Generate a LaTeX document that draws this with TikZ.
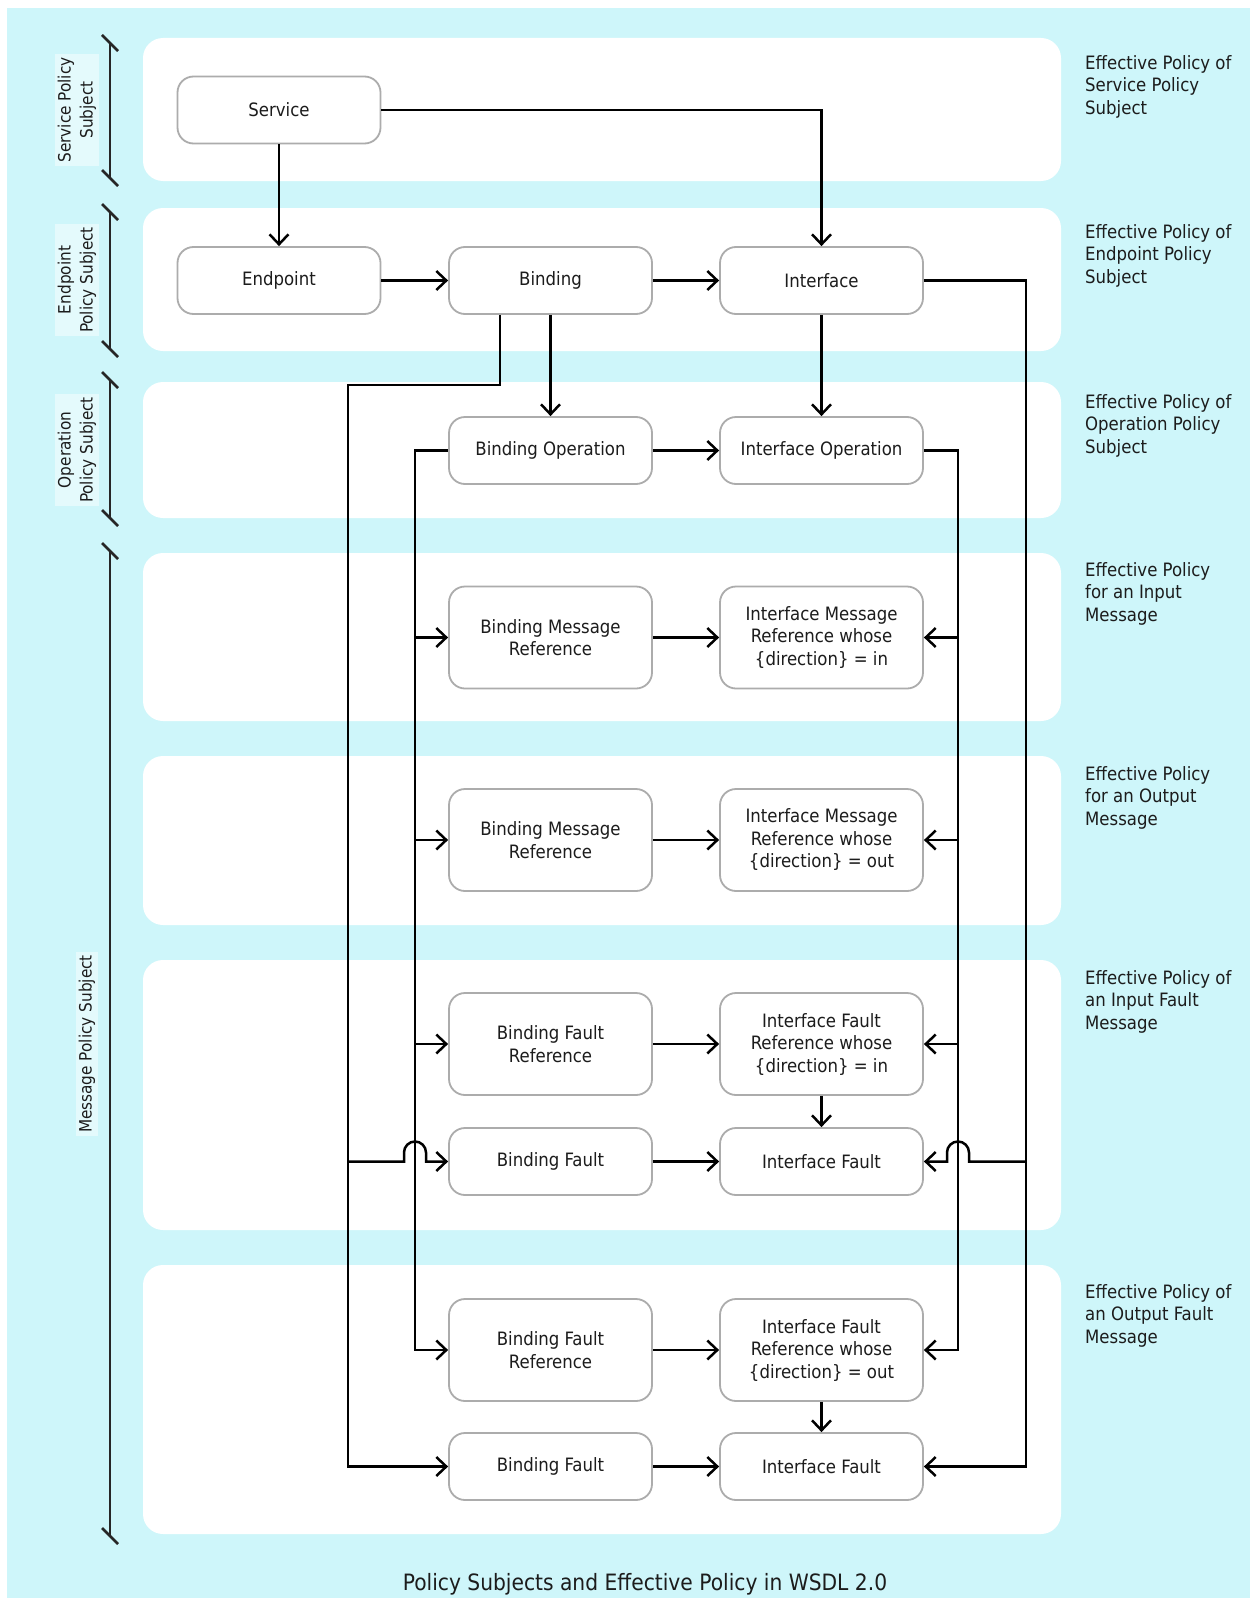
\documentclass[tikz,border=0pt]{standalone}
\usepackage{fontspec}
\setmainfont{DejaVu Sans Condensed}
\usetikzlibrary{arrows.meta}
\definecolor{bgcyan}{RGB}{206,246,250}
\definecolor{boxgray}{RGB}{172,172,172}
\definecolor{txt}{RGB}{28,28,28}
\newcommand{\nodefont}{\fontsize{18.4bp}{22.5bp}\selectfont}
\newcommand{\lblfont}{\fontsize{17bp}{22bp}\selectfont}
\newcommand{\capfont}{\fontsize{22.5bp}{26bp}\selectfont}
\tikzset{
  box/.style={draw=boxgray, line width=1.8bp, fill=white, rounded corners=16bp,
    minimum width=203bp, minimum height=67bp, align=center, font=\nodefont,
    text=txt, inner sep=0pt},
  tallbox/.style={box, minimum height=102bp},
  band/.style={fill=white, draw=none, rounded corners=20bp},
  conn/.style={line width=2.5bp, draw=black},
  arr/.style={conn, -{Straight Barb[length=10bp,width=19bp]}},
  brk/.style={line width=2.6bp, draw=black!85},
  sidelbl/.style={rotate=90, align=center, font=\lblfont, text=txt,
    fill=white, fill opacity=0.45, text opacity=1, inner sep=3bp},
  rlbl/.style={anchor=north west, align=left, font=\nodefont, text=txt, inner sep=0pt},
}
\begin{document}
\begin{tikzpicture}[x=1bp,y=-1bp]
\useasboundingbox (0,0) rectangle (1250,1598);
\fill[white] (0,0) rectangle (1250,1598);
\fill[bgcyan] (7,8) rectangle (1250,1598);
% bands
\fill[band] (143,38) rectangle (1061,181);
\fill[band] (143,208) rectangle (1061,351);
\fill[band] (143,382) rectangle (1061,518);
\fill[band] (143,553) rectangle (1061,721);
\fill[band] (143,756) rectangle (1061,925);
\fill[band] (143,960) rectangle (1061,1230);
\fill[band] (143,1265) rectangle (1061,1534);
% brackets
\draw[brk] (110,43) -- (110,178);
\draw[brk] (110,43) ++(-8,-8) -- ++(16,16);
\draw[brk] (110,178) ++(-8,-8) -- ++(16,16);
\draw[brk] (110,212) -- (110,349);
\draw[brk] (110,212) ++(-8,-8) -- ++(16,16);
\draw[brk] (110,349) ++(-8,-8) -- ++(16,16);
\draw[brk] (110,380) -- (110,518);
\draw[brk] (110,380) ++(-8,-8) -- ++(16,16);
\draw[brk] (110,518) ++(-8,-8) -- ++(16,16);
\draw[brk] (110,551) -- (110,1536);
\draw[brk] (110,551) ++(-8,-8) -- ++(16,16);
\draw[brk] (110,1536) ++(-8,-8) -- ++(16,16);
% side labels
\node[sidelbl] (lsvc) at (77,110) {Service Policy\\Subject};
\node[sidelbl] (lep) at (77,280) {Endpoint\\Policy Subject};
\node[sidelbl] (lop) at (77,450) {Operation\\Policy Subject};
\node[sidelbl] (lmsg) at (87,1044) {Message Policy Subject};
% right labels
\node[rlbl] (r1) at (1085,55) {Effective Policy of\\Service Policy\\Subject};
\node[rlbl] (r2) at (1085,224) {Effective Policy of\\Endpoint Policy\\Subject};
\node[rlbl] (r3) at (1085,394) {Effective Policy of\\Operation Policy\\Subject};
\node[rlbl] (r4) at (1085,562) {Effective Policy\\for an Input\\Message};
\node[rlbl] (r5) at (1085,766) {Effective Policy\\for an Output\\Message};
\node[rlbl] (r6) at (1085,970) {Effective Policy of\\an Input Fault\\Message};
\node[rlbl] (r7) at (1085,1284) {Effective Policy of\\an Output Fault\\Message};
% nodes
\node[box] (svc) at (279,110) {Service};
\node[box] (ep) at (279,280.5) {Endpoint};
\node[box] (bd) at (550.5,280.5) {Binding};
\node[box] (if) at (821.5,280.5) {Interface};
\node[box] (bop) at (550.5,450.5) {Binding Operation};
\node[box] (iop) at (821.5,450.5) {Interface Operation};
\node[tallbox] (bmr1) at (550.5,637.5) {Binding Message\\Reference};
\node[tallbox] (imr1) at (821.5,637.5) {Interface Message\\Reference whose\\\{direction\} = in};
\node[tallbox] (bmr2) at (550.5,840) {Binding Message\\Reference};
\node[tallbox] (imr2) at (821.5,840) {Interface Message\\Reference whose\\\{direction\} = out};
\node[tallbox] (bfr1) at (550.5,1044) {Binding Fault\\Reference};
\node[tallbox] (ifr1) at (821.5,1044) {Interface Fault\\Reference whose\\\{direction\} = in};
\node[box] (bf1) at (550.5,1161.5) {Binding Fault};
\node[box] (if1) at (821.5,1161.5) {Interface Fault};
\node[tallbox] (bfr2) at (550.5,1350) {Binding Fault\\Reference};
\node[tallbox] (ifr2) at (821.5,1350) {Interface Fault\\Reference whose\\\{direction\} = out};
\node[box] (bf2) at (550.5,1466.5) {Binding Fault};
\node[box] (if2) at (821.5,1466.5) {Interface Fault};
% helper coordinates
\coordinate (Lx) at (348,0);
\coordinate (lx) at (415,0);
\coordinate (rx) at (958,0);
\coordinate (Rx) at (1026,0);
\coordinate (bt) at (500,385);
% connectors
\draw[arr] (svc.south) -- (ep.north);
\draw[arr] (svc.east) -| (if.north);
\draw[arr] (ep.east) -- (bd.west);
\draw[arr] (bd.east) -- (if.west);
\draw[arr] (bd.south) -- (bop.north);
\draw[arr] (if.south) -- (iop.north);
\draw[arr] (bop.east) -- (iop.west);
\draw[arr] (bmr1.east) -- (imr1.west);
\draw[arr] (bmr2.east) -- (imr2.west);
\draw[arr] (bfr1.east) -- (ifr1.west);
\draw[arr] (bf1.east) -- (if1.west);
\draw[arr] (bfr2.east) -- (ifr2.west);
\draw[arr] (bf2.east) -- (if2.west);
\draw[arr] (ifr1.south) -- (if1.north);
\draw[arr] (ifr2.south) -- (if2.north);
% binding operation fan-out
\draw[arr] (bop.west) -| (lx |- bfr2) -- (bfr2.west);
\draw[arr] (lx |- bmr1) -- (bmr1.west);
\draw[arr] (lx |- bmr2) -- (bmr2.west);
\draw[arr] (lx |- bfr1) -- (bfr1.west);
% interface operation fan-out
\draw[arr] (iop.east) -| (rx |- ifr2) -- (ifr2.east);
\draw[arr] (rx |- imr1) -- (imr1.east);
\draw[arr] (rx |- imr2) -- (imr2.east);
\draw[arr] (rx |- ifr1) -- (ifr1.east);
% binding -> binding faults
\draw[arr] (bd.south -| bt) -- (bt) -- (bt -| Lx) -- (Lx |- bf2) -- (bf2.west);
\draw[arr] (Lx |- bf1) -- ([xshift=-11bp]lx |- bf1) -- ++(0,-9)
   arc[start angle=180, end angle=0, radius=11bp] -- ++(0,9) -- (bf1.west);
% interface -> interface faults
\draw[arr] (if.east) -- (Rx |- if) -- (Rx |- if2) -- (if2.east);
\draw[arr] (Rx |- if1) -- ([xshift=11bp]rx |- if1) -- ++(0,-9)
   arc[start angle=0, end angle=180, radius=11bp] -- ++(0,9) -- (if1.east);
% caption
\node[font=\capfont, text=txt] (cap) at (645,1584) {Policy Subjects and Effective Policy in WSDL 2.0};
\end{tikzpicture}
\end{document}
